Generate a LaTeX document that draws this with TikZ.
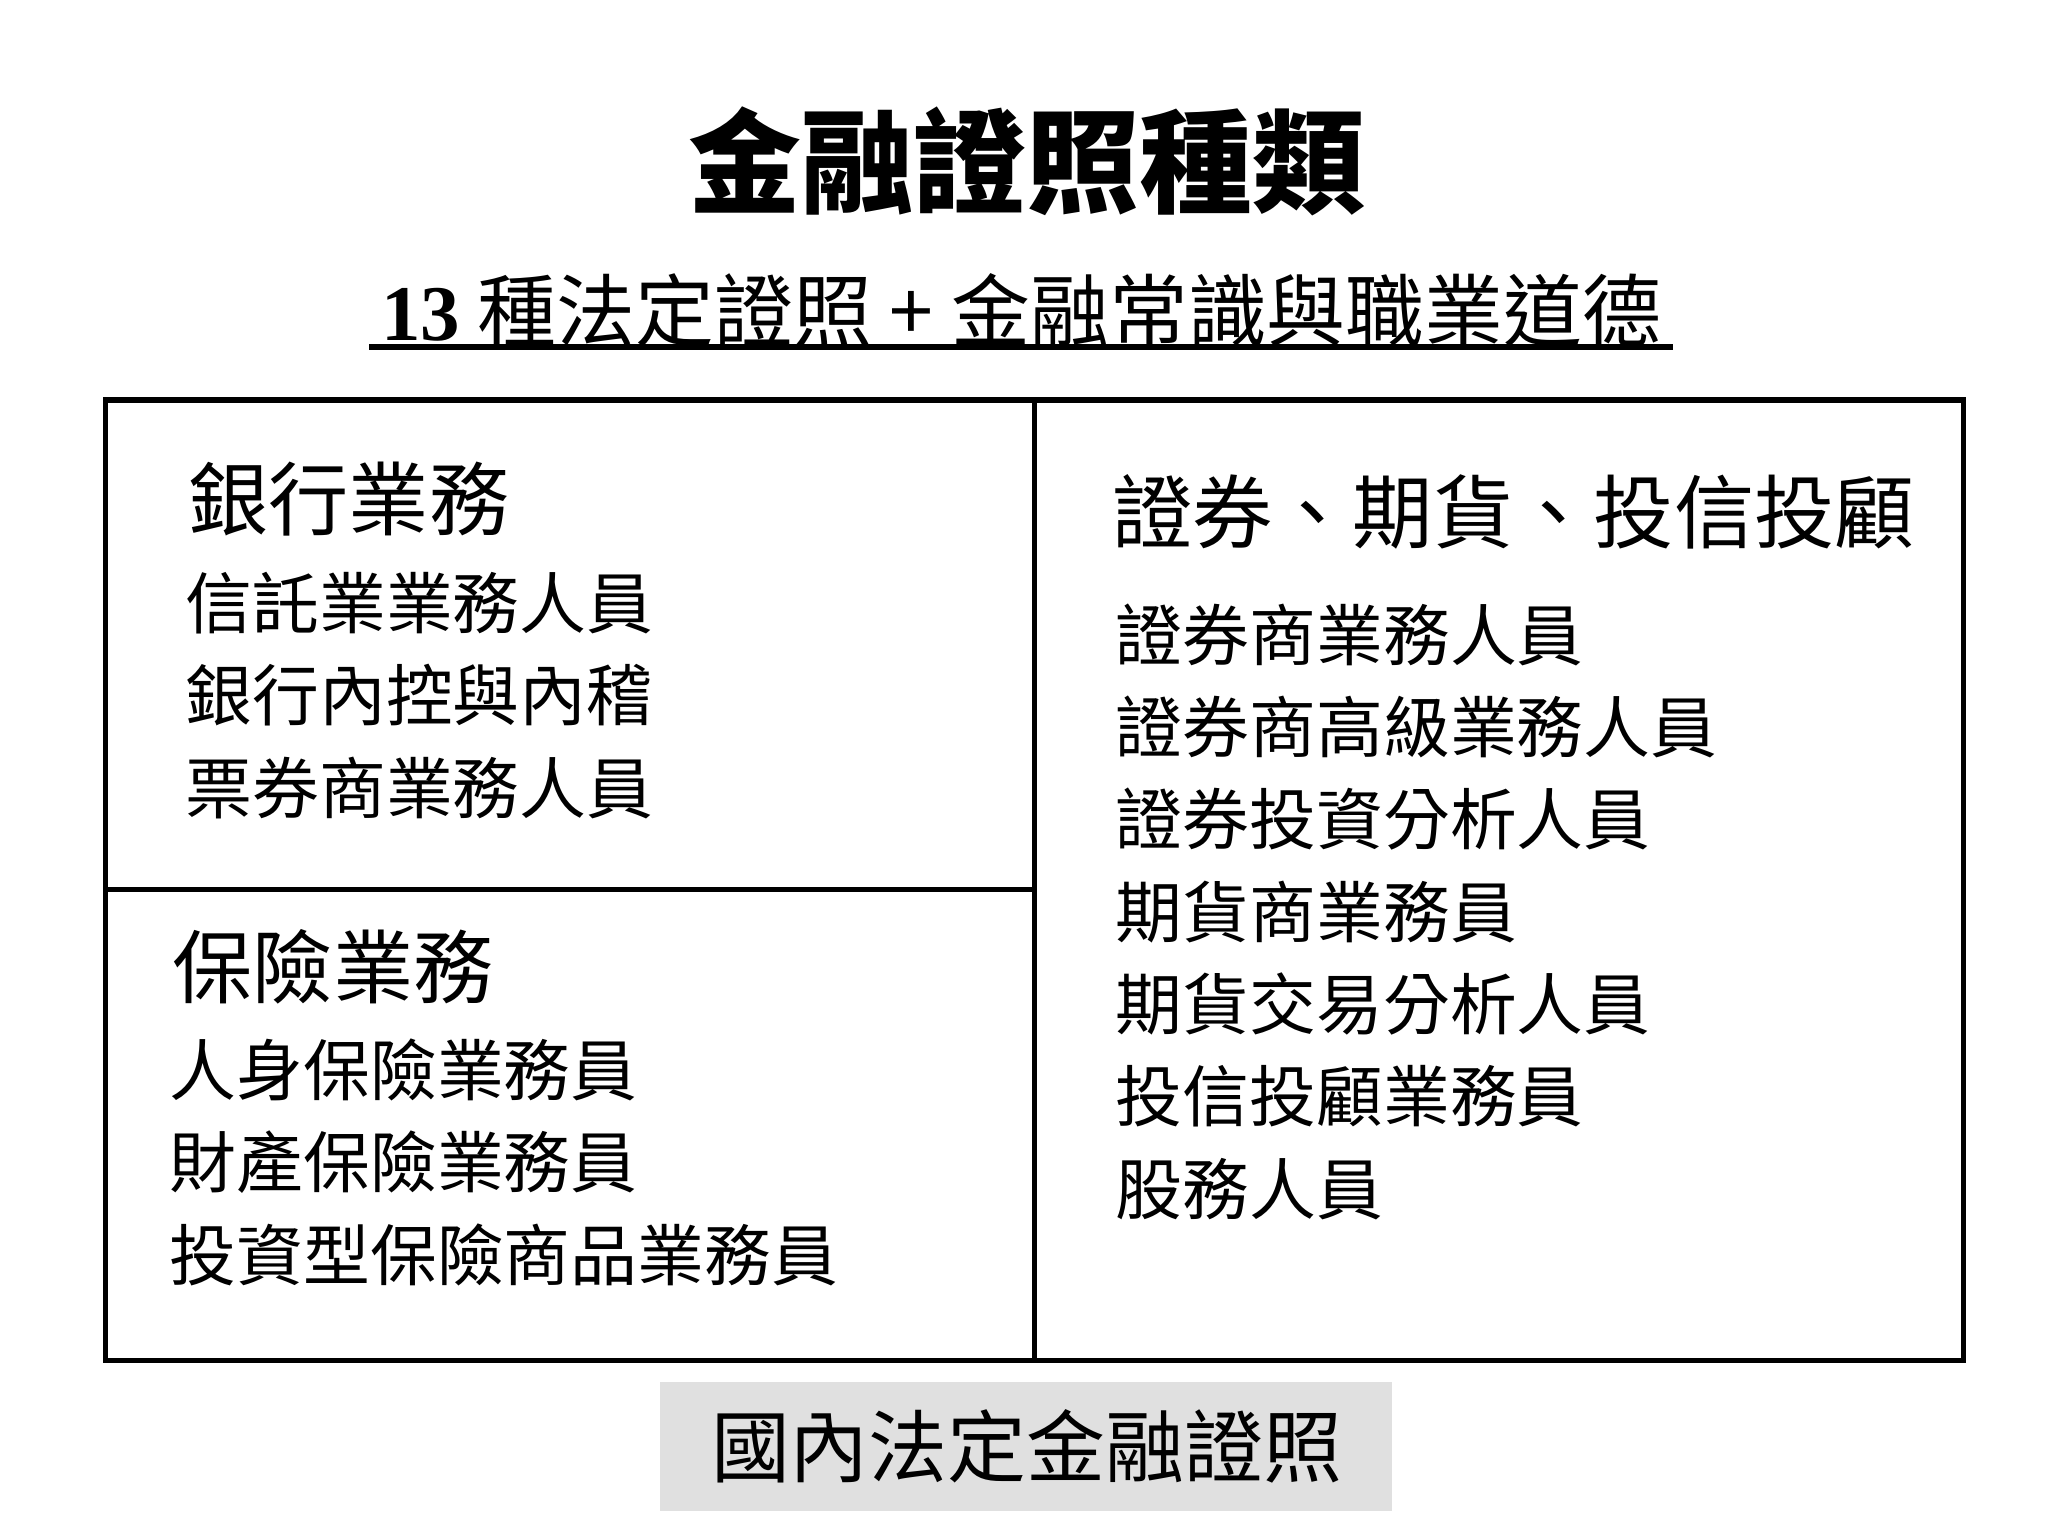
\documentclass[tikz,border=0pt]{standalone}
\usepackage{fontspec}
\setmainfont{Noto Sans CJK TC}
\newfontfamily\tnr{Liberation Serif}
\begin{document}
\begin{tikzpicture}[x=0.01cm,y=-0.01cm,
 hd/.style={anchor=west,font=\fontsize{17.3}{20}\selectfont,inner sep=0},
 it/.style={anchor=west,font=\fontsize{14.4}{17}\selectfont,inner sep=0},
 ln/.style={line width=1.2pt}]
\useasboundingbox (0,0) rectangle (1552,1164);
\node[font=\fontsize{24.3}{28}\selectfont\bfseries] (title) at (778,122) {金融證照種類};
\node[font=\fontsize{17}{20}\selectfont,inner sep=0] (sub) at (774,235) {{\tnr\bfseries 13} 種法定證照 + 金融常識與職業道德};
\draw[line width=1.2pt] (280,263) -- (1268,263);
\draw[ln] (80,303) rectangle (1488,1031);
\draw[ln] (784,303) -- (784,1031);
\draw[ln] (80,674) -- (784,674);
\node[hd] (h1) at (142,378) {銀行業務};
\node[it] (a1) at (140,457) {信託業業務人員};
\node[it] (a2) at (140,527) {銀行內控與內稽};
\node[it] (a3) at (140,597) {票券商業務人員};
\node[hd] (h2) at (130,733) {保險業務};
\node[it] (b1) at (128,811) {人身保險業務員};
\node[it] (b2) at (128,881) {財產保險業務員};
\node[it] (b3) at (128,951) {投資型保險商品業務員};
\node[hd] (h3) at (842,388) {證券、期貨、投信投顧};
\node[it] (c1) at (845,481) {證券商業務人員};
\node[it] (c2) at (845,551) {證券商高級業務人員};
\node[it] (c3) at (845,621) {證券投資分析人員};
\node[it] (c4) at (845,691) {期貨商業務員};
\node[it] (c5) at (845,761) {期貨交易分析人員};
\node[it] (c6) at (845,831) {投信投顧業務員};
\node[it] (c7) at (845,901) {股務人員};
\fill[black!12] (500,1047) rectangle (1055,1145);
\node[font=\fontsize{17}{20}\selectfont] (foot) at (778,1096) {國內法定金融證照};
\end{tikzpicture}
\end{document}
